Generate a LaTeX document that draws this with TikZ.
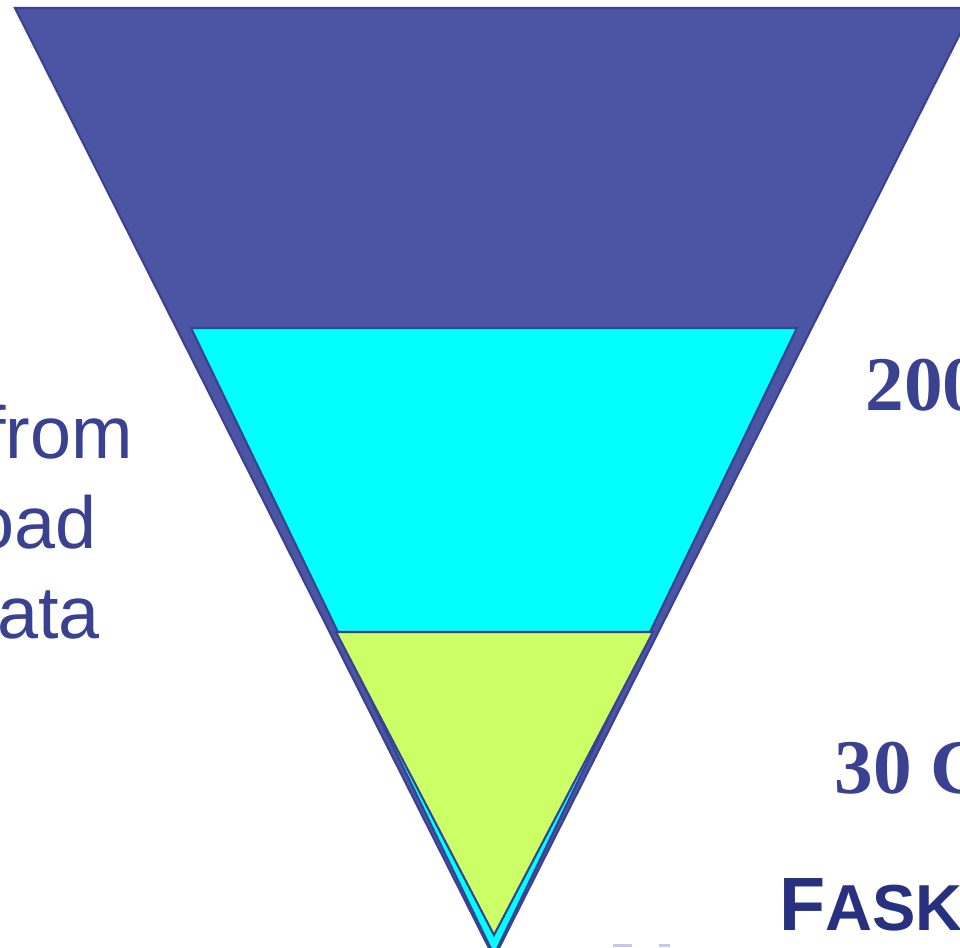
\documentclass[tikz,border=0pt]{standalone}
\usepackage{fontspec}
\setmainfont{Liberation Serif}
\setsansfont{Liberation Sans}
\definecolor{funnelnavy}{RGB}{76,85,163}
\definecolor{edgenavy}{RGB}{58,65,144}
\definecolor{brightcyan}{RGB}{0,255,255}
\definecolor{limegreen}{RGB}{204,255,102}
\definecolor{logonavy}{RGB}{39,49,127}
\definecolor{logopale}{RGB}{195,201,240}
\tikzset{
    funnel/.style={draw=edgenavy, line width=1.2pt, line join=miter},
    sidetext/.style={anchor=base east, inner sep=0pt, text=edgenavy,
        font=\sffamily\fontsize{42}{50}\selectfont},
    sizetext/.style={anchor=base west, inner sep=0pt, text=edgenavy,
        font=\rmfamily\bfseries\fontsize{44}{50}\selectfont},
}
\begin{document}
\begin{tikzpicture}[x=0.02cm,y=-0.02cm]
\useasboundingbox (0,0) rectangle (960,947);
\clip (0,0) rectangle (960,947);
\fill[white] (0,0) rectangle (960,947);

% funnel
\draw[funnel, fill=funnelnavy] (15,8) -- (973,8) -- (494,958) -- cycle;
\draw[funnel, fill=brightcyan] (191,328) -- (797,328) -- (494,955) -- cycle;
\draw[funnel, fill=limegreen] (336,632) -- (653,632) -- (494,935) -- cycle;

% left text
\node[sidetext] (from) at (133,458) {from};
\node[sidetext] (load) at (97,548) {oad};
\node[sidetext] (data) at (100,638) {ata};

% right text
\node[sizetext] (large) at (865,410) {200};
\node[sizetext] (small) at (834,793) {30 G};

% logo
\node[anchor=base west, inner sep=0pt, text=logonavy,
    font=\sffamily\bfseries\fontsize{43}{50}\selectfont] (logo) at (779,930)
    {F\fontsize{37}{50}\selectfont ASK};
\foreach \xa/\xb in {613/632,659/670}
    \fill[logopale] (\xa,944) rectangle (\xb,947);
\end{tikzpicture}
\end{document}
